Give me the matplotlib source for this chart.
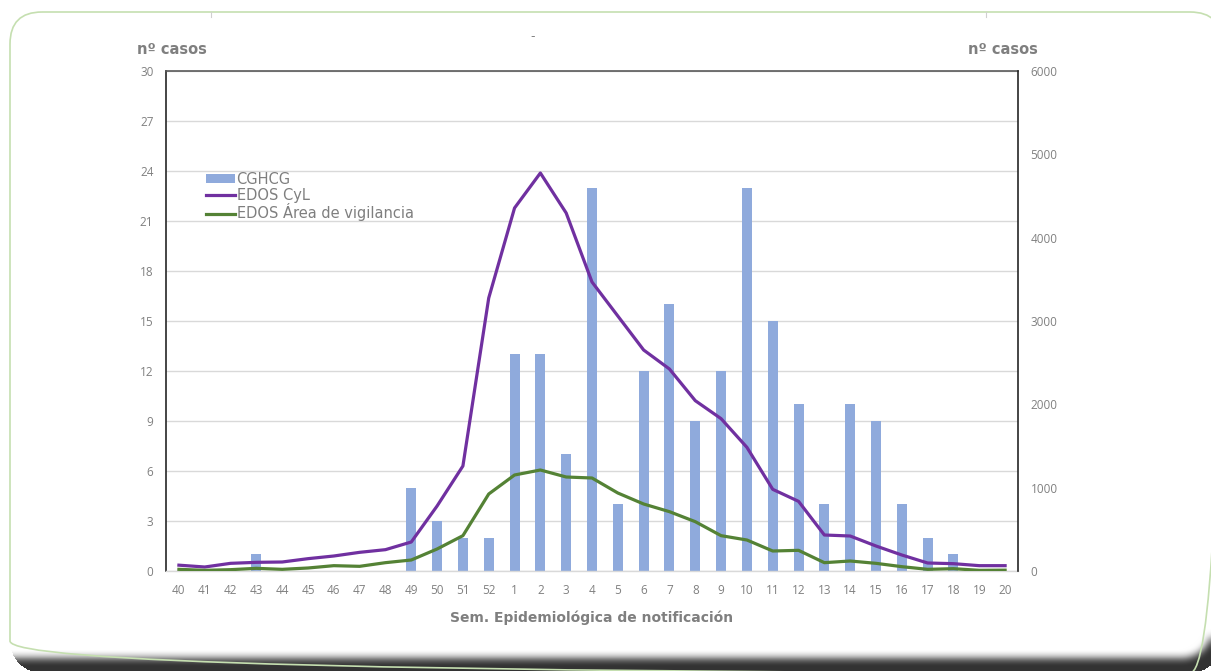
import numpy as np
import matplotlib.pyplot as plt
from matplotlib.patches import FancyBboxPatch, Patch
from matplotlib.lines import Line2D

# Epidemiological weeks (season 40 -> 20)
weeks = [str(w) for w in list(range(40, 53)) + list(range(1, 21))]

# Cases per week
cghcg = [0, 0, 0, 1, 0, 0, 0, 0, 0, 5, 3, 2, 2,
         13, 13, 7, 23, 4, 12, 16, 9, 12, 23, 15, 10, 4, 10, 9, 4, 2, 1, 0, 0]
edos_cyl = [70, 48, 92, 104, 108, 148, 180, 224, 256, 348, 780, 1260, 3276,
            4356, 4776, 4296, 3468, 3060, 2652, 2424, 2044, 1828, 1484, 980, 836,
            432, 420, 300, 192, 96, 88, 64, 64]
edos_area = [20, 8, 16, 32, 20, 36, 64, 56, 100, 132, 264, 424, 924,
             1152, 1212, 1128, 1116, 936, 804, 712, 592, 424, 372, 240, 248,
             100, 120, 92, 52, 20, 28, 8, 10]

left_ticks = list(range(0, 31, 3))
right_ticks = list(range(0, 6001, 1000))

BAR_C = '#8faadc'
CYL_C = '#7030a0'
AREA_C = '#548235'
TXT_C = '#7f7f7f'
TICK_C = '#808080'
GRID_C = '#d9d9d9'

W, H = 1211, 671
fig = plt.figure(figsize=(W / 100, H / 100), dpi=100)
fig.patch.set_facecolor('white')

# background card: white panel with a dark bevel along bottom and right
bg = fig.add_axes([0, 0, 1, 1], zorder=-5)
bg.set_xlim(0, W)
bg.set_ylim(H, 0)
bg.axis('off')


def rounded_mask(xx, yy, x0, y0, x1, y1, r):
    cx = np.clip(xx, x0 + r, x1 - r)
    cy = np.clip(yy, y0 + r, y1 - r)
    return ((xx - cx) ** 2 + (yy - cy) ** 2 <= r * r) & (xx >= x0) & (xx <= x1) & (yy >= y0) & (yy <= y1)


def box_blur(a, r):
    k = np.ones(2 * r + 1) / (2 * r + 1)
    a = np.apply_along_axis(lambda v: np.convolve(np.pad(v, r, mode='edge'), k, 'valid'), 0, a)
    a = np.apply_along_axis(lambda v: np.convolve(np.pad(v, r, mode='edge'), k, 'valid'), 1, a)
    return a


yy, xx = np.mgrid[0:H, 0:W] + 0.5
outer = rounded_mask(xx, yy, 10, 12, 1222, 673, 32)
inner = rounded_mask(xx, yy, -100, -100, 1212, 658, 30).astype(float)
inner = box_blur(box_blur(inner, 4), 4)
shade = 0.2 + 0.8 * inner
img = np.ones((H, W, 3))
img[outer] = shade[outer][:, None]
bg.imshow(img, extent=(0, W, H, 0), interpolation='bilinear')

card = FancyBboxPatch((10, 12), 1212, 661, boxstyle='round,pad=0,rounding_size=32',
                      facecolor='none', edgecolor='#c5dfb0', linewidth=1.2)
bg.add_patch(card)
for x in (211, 986):
    bg.plot([x, x], [12, 17], color='#d0d0d0', lw=0.8)

# main chart
ax = fig.add_axes([166 / W, 1 - 571 / H, (1018 - 166) / W, 500 / H])
ax.set_facecolor('white')
x = np.arange(len(weeks))
ax.bar(x, cghcg, width=0.39, color=BAR_C, zorder=2)
ax.set_xlim(-0.5, len(weeks) - 0.5)
ax.set_ylim(0, 30)
ax.set_yticks(left_ticks)
ax.set_xticks(x)
ax.set_xticklabels(weeks)
ax.yaxis.grid(True, color=GRID_C, linewidth=1, zorder=0)
ax.set_axisbelow(True)
ax.tick_params(axis='both', length=0, labelsize=8.5, labelcolor=TICK_C)
ax.tick_params(axis='y', pad=9)
ax.tick_params(axis='x', pad=9)
for lab in ax.get_xticklabels() + ax.get_yticklabels():
    lab.set_fontfamily('Open Sans')
ax.spines['left'].set_color('#262626')
ax.spines['left'].set_linewidth(1.2)
ax.spines['top'].set_color('#595959')
ax.spines['top'].set_linewidth(1.2)
ax.spines['bottom'].set_color(GRID_C)
ax.spines['bottom'].set_linewidth(1)
ax.spines['right'].set_visible(False)

ax2 = ax.twinx()
ax2.plot(x, edos_cyl, color=CYL_C, lw=2.3, zorder=3)
ax2.plot(x, edos_area, color=AREA_C, lw=2.3, zorder=3)
ax2.set_ylim(0, 6000)
ax2.set_yticks(right_ticks)
ax2.tick_params(axis='y', length=0, labelsize=8.5, labelcolor=TICK_C, pad=9)
for lab in ax2.get_yticklabels():
    lab.set_fontfamily('Open Sans')
for s in ('left', 'top', 'bottom'):
    ax2.spines[s].set_visible(False)
ax2.spines['right'].set_color('#262626')
ax2.spines['right'].set_linewidth(1.2)

# axis titles
fig.text(172 / W, 1 - 50 / H, 'nº casos', ha='center', va='center',
         fontsize=10.5, fontweight='bold', color=TXT_C)
fig.text(1003 / W, 1 - 50 / H, 'nº casos', ha='center', va='center',
         fontsize=10.5, fontweight='bold', color=TXT_C)
fig.text(592 / W, 1 - 618 / H, 'Sem. Epidemiológica de notificación', ha='center',
         va='center', fontsize=10, fontweight='bold', color=TXT_C)
fig.text(533 / W, 1 - 37 / H, '-', ha='center', va='center', fontsize=9, color=TXT_C)

handles = [Patch(facecolor=BAR_C, edgecolor='none'),
           Line2D([], [], color=CYL_C, lw=2.3),
           Line2D([], [], color=AREA_C, lw=2.3)]
labels = ['CGHCG', 'EDOS CyL', 'EDOS Área de vigilancia']
leg = fig.legend(handles, labels, loc='upper left', bbox_to_anchor=(206 / W, 1 - 172 / H),
                 frameon=False, fontsize=10.5, handlelength=2.0, handleheight=0.55,
                 handletextpad=0.1, labelspacing=0.05, borderaxespad=0, borderpad=0)
for t in leg.get_texts():
    t.set_color(TXT_C)

fig.savefig('out.png', dpi=100)
